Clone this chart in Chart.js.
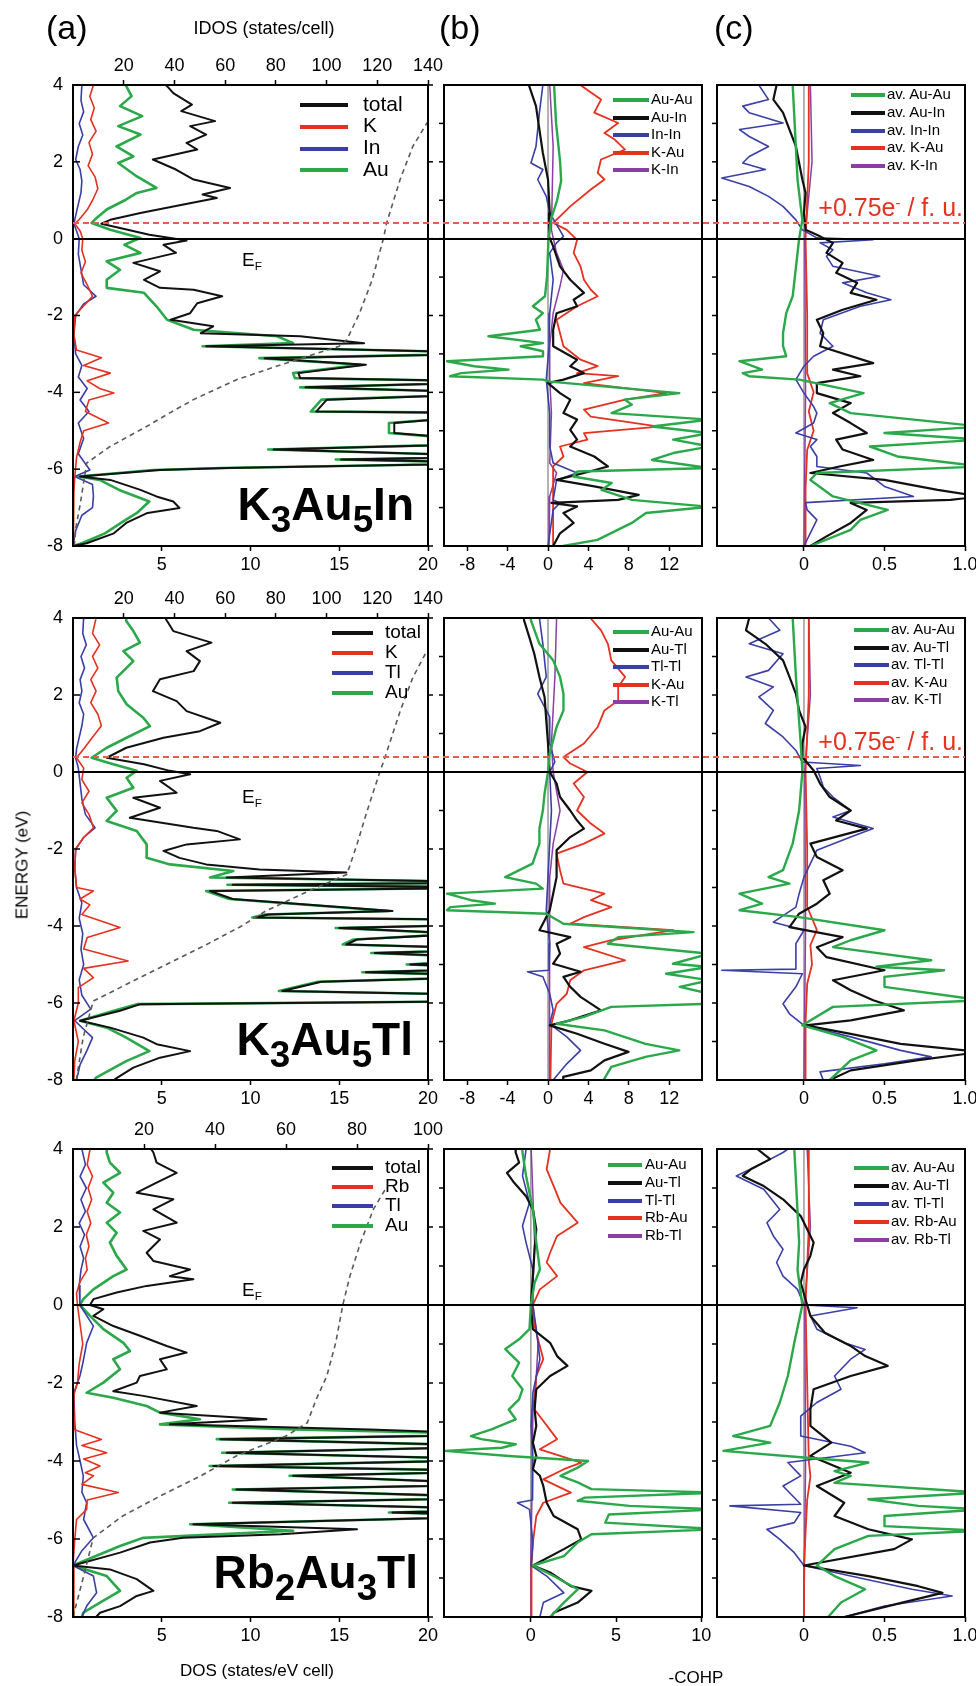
<!DOCTYPE html>
<html>
<head>
<meta charset="utf-8">
<title>DOS and COHP</title>
<script src="https://cdn.jsdelivr.net/npm/chart.js@4.4.1/dist/chart.umd.min.js"></script>
<style>
  html, body { margin: 0; padding: 0; background: #fff; overflow: hidden; }
  body { width: 976px; height: 1686px; position: relative; font-family: 'Liberation Sans', Arial, Helvetica, sans-serif; color: #000; }
  canvas { position: absolute; }
  .lbl { position: absolute; white-space: nowrap; line-height: 1; }
  .sw { display: inline-block; height: 4px; vertical-align: middle; }
  .big { font-size: 46px; font-weight: bold; }
  .big .sb { font-size: 0.8em; position: relative; top: 0.33em; }
  .ef sub { font-size: 0.62em; vertical-align: baseline; position: relative; top: 0.3em; }
  .shift { font-size: 25px; color: #e4321f; }
  .shift sup { font-size: 0.6em; vertical-align: baseline; position: relative; top: -0.55em; }
</style>
</head>
<body>
<script>
// Energy axis (eV), shared by every panel
const energyRange = [-8, 4];
const energyTicks = [-8, -6, -4, -2, 0, 2, 4];
const energyAll = [-7, -6, -5, -4, -3, -2, -1, 0, 1, 2, 3];

// Axis ticks
const dosTicks = [5, 10, 15, 20];
const idosTicksK = [20, 40, 60, 80, 100, 120, 140];
const idosTicksRb = [20, 40, 60, 80, 100];
const cohpTicksK = [-8, -4, 0, 4, 8, 12];
const cohpTicksRb = [0, 5, 10];
const avCohpTicks = [0, 0.5, 1.0];
const avCohpLabels = ['0', '0.5', '1.0'];

// Extra electron level (eV above E_F)
const k3inShift = 0.40;
const k3tlShift = 0.38;

// ---- K3Au5In : [energy, value]
const k3inTotal = [[4.0,5.2],[3.97,5.3],[3.79,5.65],[3.49,6.7],[3.32,6.1],[3.06,8.0],[2.93,6.6],[2.71,7.5],[2.49,6.4],[2.32,7.0],[2.06,4.5],[1.80,5.8],[1.54,6.8],[1.32,8.85],[1.15,7.3],[1.06,8.1],[0.84,5.65],[0.67,3.8],[0.49,2.1],[0.39,1.6],[0.28,2.65],[0.10,4.3],[-0.05,6.4],[-0.16,5.1],[-0.37,5.8],[-0.63,3.4],[-0.85,4.9],[-1.07,4.0],[-1.28,4.9],[-1.33,6.8],[-1.50,8.4],[-1.68,7.0],[-1.94,6.6],[-2.11,5.5],[-2.28,7.9],[-2.46,7.2],[-2.54,12.8],[-2.72,16.4],[-2.80,7.5],[-2.98,25],[-3.11,10.8],[-3.28,16.5],[-3.50,12.7],[-3.63,12.8],[-3.72,25],[-3.87,13.1],[-4.02,25],[-4.19,14.3],[-4.50,13.7],[-4.54,25],[-4.80,18.1],[-5.06,18.1],[-5.32,25],[-5.49,11.3],[-5.67,25],[-5.75,15.1],[-5.84,25],[-5.97,8.7],[-6.02,4.9],[-6.19,0.4],[-6.28,2.1],[-6.54,3.8],[-6.71,4.7],[-6.84,5.65],[-7.01,6.0],[-7.14,4.2],[-7.40,3.0],[-7.67,2.3],[-7.93,0.77],[-8.0,0]];
const k3inK = [[4.0,1.15],[3.7,0.95],[3.4,1.2],[3.1,1.0],[2.8,1.3],[2.5,0.9],[2.2,1.1],[1.9,0.85],[1.6,1.25],[1.3,1.4],[1.0,1.1],[0.75,0.8],[0.5,0.35],[0.39,0.1],[0.2,0.4],[0.0,0.55],[-0.3,0.5],[-0.6,0.7],[-0.9,0.45],[-1.2,0.8],[-1.5,1.1],[-1.7,0.7],[-2.0,0.1],[-2.5,0.05],[-2.9,0.2],[-3.1,1.6],[-3.3,0.6],[-3.5,2.1],[-3.7,0.8],[-3.9,1.5],[-4.02,2.3],[-4.2,0.9],[-4.5,0.7],[-4.8,2.0],[-5.0,0.6],[-5.3,0.4],[-5.7,0.2],[-6.2,0.1],[-6.6,0.05],[-7.0,0.05],[-8.0,0]];
const k3inIn = [[4.0,0.5],[3.6,0.45],[3.3,0.6],[3.0,0.35],[2.7,0.55],[2.4,0.3],[2.06,0.15],[1.8,0.4],[1.5,0.5],[1.2,0.45],[0.9,0.3],[0.6,0.15],[0.39,0.05],[0.2,0.2],[0.0,0.35],[-0.4,0.3],[-0.8,0.45],[-1.2,0.6],[-1.5,1.3],[-1.7,0.6],[-2.0,0.15],[-2.5,0.05],[-3.0,0.15],[-3.3,0.5],[-3.6,0.3],[-3.9,0.8],[-4.2,0.4],[-4.5,0.9],[-4.8,0.3],[-5.2,0.6],[-5.6,0.3],[-6.02,0.95],[-6.19,0.1],[-6.4,1.1],[-6.7,1.15],[-7.0,1.1],[-7.2,0.5],[-7.6,0.15],[-8.0,0]];
const k3inAu = [[4.0,3.0],[3.97,3.0],[3.71,3.3],[3.45,2.65],[3.19,3.9],[2.93,2.55],[2.71,3.8],[2.40,2.45],[2.14,3.4],[1.97,2.55],[1.62,3.6],[1.32,4.7],[1.19,3.6],[1.02,3.0],[0.76,1.9],[0.54,1.33],[0.41,1.05],[0.23,2.1],[0.02,3.8],[-0.16,2.9],[-0.37,3.8],[-0.59,1.9],[-0.81,2.65],[-1.07,1.9],[-1.28,1.9],[-1.41,4.0],[-1.76,4.7],[-2.11,5.3],[-2.37,6.8],[-2.54,11.5],[-2.72,12.4],[-2.80,7.3],[-2.98,25],[-3.11,10.5],[-3.28,16.2],[-3.50,12.4],[-3.63,12.5],[-3.72,25],[-3.87,12.8],[-4.02,25],[-4.19,14.0],[-4.50,13.4],[-4.54,25],[-4.80,17.8],[-5.06,17.8],[-5.32,25],[-5.49,11.0],[-5.67,25],[-5.75,14.8],[-5.84,25],[-5.97,8.4],[-6.02,4.5],[-6.19,0.3],[-6.28,1.5],[-6.54,2.6],[-6.84,4.3],[-7.01,3.9],[-7.14,3.6],[-7.40,2.7],[-7.67,1.8],[-7.93,0.5],[-8.0,0]];
const k3inIdos = [[-8.0,0.5],[-7.5,1.2],[-6.93,2.8],[-6.3,4.3],[-5.84,5.4],[-5.41,14.6],[-4.89,29],[-4.54,38],[-4.19,47.5],[-3.67,64.5],[-3.24,84],[-2.80,105],[-2.63,108],[-1.94,113],[-1.07,118],[0.0,122.4],[0.41,123.7],[1.54,129],[2.40,134],[3.0,139.5],[3.1,141]];
const k3inAuAu = [[4.0,0.6],[3.0,0.8],[2.0,1.2],[1.5,1.3],[1.0,0.9],[0.5,0.3],[0.0,0.05],[-1.0,-0.1],[-1.5,-0.3],[-1.76,-1.5],[-1.94,-0.5],[-2.11,-1.2],[-2.37,-0.8],[-2.54,-5.9],[-2.72,-0.5],[-2.80,-2.7],[-2.93,-0.5],[-3.06,-0.5],[-3.19,-10.0],[-3.32,-7.3],[-3.41,-3.9],[-3.50,-8.6],[-3.58,-9.7],[-3.67,-0.5],[-3.72,0.2],[-4.02,13.0],[-4.19,7.6],[-4.32,8.3],[-4.54,6.3],[-4.71,16],[-4.89,10.3],[-5.06,16],[-5.23,12.4],[-5.41,16],[-5.58,12.4],[-5.76,10.3],[-5.97,16],[-6.06,2.9],[-6.19,2.5],[-6.36,6.3],[-6.54,5.3],[-6.80,8.3],[-6.98,16],[-7.14,9.7],[-7.40,8.3],[-7.58,6.9],[-7.84,4.9],[-8.0,1.5]];
const k3inAuIn = [[4.0,-1.9],[3.97,-1.86],[3.45,-1.19],[2.84,-0.85],[2.23,-0.51],[1.54,0],[0.67,0.17],[0.06,0.1],[-0.20,0.51],[-0.72,1.19],[-1.07,2.2],[-1.41,3.56],[-1.59,2.54],[-1.76,2.88],[-1.94,0.85],[-2.37,0.51],[-2.80,0.51],[-3.15,2.88],[-3.32,2.2],[-3.50,3.56],[-3.67,1.53],[-3.76,0],[-4.02,1.19],[-4.19,2.2],[-4.54,1.53],[-4.71,2.88],[-4.98,2.2],[-5.23,2.88],[-5.41,2.2],[-5.67,4.58],[-5.93,5.93],[-6.10,3.56],[-6.28,0.85],[-6.45,4.58],[-6.67,8.98],[-6.80,6.95],[-6.88,0.34],[-6.97,2.88],[-7.14,1.53],[-7.40,2.54],[-7.67,1.19],[-8.0,0.51]];
const k3inInIn = [[4.0,-0.51],[3.28,-0.85],[2.40,-1.19],[1.97,-1.69],[1.80,-0.51],[1.54,-1.02],[1.10,-0.17],[0.67,0.17],[0.06,1.53],[-0.11,0.85],[-0.37,0.17],[-1.07,0.51],[-1.94,0.17],[-2.80,0.1],[-3.67,-0.17],[-4.54,0.17],[-5.41,0.17],[-5.84,0.51],[-6.10,2.88],[-6.28,0.85],[-6.80,0.51],[-6.88,1.19],[-7.06,0.51],[-8.0,0]];
const k3inKAu = [[4.0,3.2],[3.62,5.25],[3.28,4.58],[3.01,6.95],[2.75,5.59],[2.58,6.61],[2.32,7.63],[2.06,5.25],[1.71,4.92],[1.54,5.59],[1.28,4.24],[0.84,2.2],[0.58,1.19],[0.41,0.51],[0.23,1.86],[-0.03,2.88],[-0.37,2.54],[-0.72,3.22],[-1.07,3.56],[-1.33,4.24],[-1.50,4.92],[-1.76,2.88],[-2.11,0.85],[-2.46,1.19],[-2.80,1.53],[-3.15,3.22],[-3.32,4.92],[-3.50,2.88],[-3.58,6.95],[-3.76,3.56],[-4.02,11.7],[-4.19,7.63],[-4.45,3.56],[-4.63,4.24],[-4.89,11.0],[-5.06,3.56],[-5.23,3.9],[-5.41,1.19],[-5.67,1.53],[-5.93,0.51],[-6.28,0.51],[-8.0,0.5]];
const k3inKIn = [[4.0,0.17],[2.40,0.51],[0.23,0.34],[-0.37,0.85],[-0.81,1.53],[-1.24,1.19],[-1.94,0.51],[-2.80,0.17],[-3.67,0.17],[-4.54,0.34],[-5.84,0.17],[-6.10,0.85],[-6.71,0.17],[-8.0,0.1]];
const k3inAvAuAu = [[4.0,-0.07],[1.54,-0.04],[0.49,-0.01],[0.0,-0.03],[-1.50,-0.07],[-1.94,-0.11],[-2.46,-0.13],[-2.80,-0.13],[-3.06,-0.11],[-3.19,-0.40],[-3.41,-0.26],[-3.50,-0.38],[-3.58,-0.34],[-3.67,-0.03],[-4.02,0.37],[-4.28,0.16],[-4.54,0.29],[-4.89,1.1],[-5.06,0.50],[-5.23,1.1],[-5.41,0.41],[-5.67,0.58],[-5.93,1.1],[-6.10,0.08],[-6.28,0.04],[-6.71,0.18],[-7.06,0.52],[-7.32,0.35],[-7.58,0.29],[-8.0,0.04]];
const k3inAvAuIn = [[4.0,-0.17],[3.62,-0.19],[3.28,-0.13],[2.84,-0.09],[2.40,-0.05],[1.97,-0.03],[1.54,-0.01],[1.19,0.01],[0.67,0],[0.23,0.01],[0.06,0.10],[-0.11,0.18],[-0.37,0.14],[-0.63,0.24],[-0.89,0.20],[-1.15,0.33],[-1.41,0.29],[-1.59,0.45],[-1.85,0.24],[-2.11,0.08],[-2.46,0.12],[-2.80,0.10],[-3.24,0.43],[-3.41,0.18],[-3.58,0.35],[-3.76,0.08],[-4.02,0.08],[-4.28,0.29],[-4.54,0.18],[-4.80,0.29],[-5.06,0.39],[-5.23,0.20],[-5.49,0.24],[-5.76,0.43],[-5.93,0.22],[-6.10,0.04],[-6.28,0.50],[-6.54,0.83],[-6.71,1.1],[-6.80,0.91],[-6.88,0.29],[-7.06,0.39],[-7.40,0.29],[-7.75,0.14],[-8.0,0.04]];
const k3inAvInIn = [[4.0,-0.28],[3.62,-0.22],[3.45,-0.38],[3.28,-0.34],[3.01,-0.13],[2.84,-0.40],[2.66,-0.34],[2.40,-0.22],[2.14,-0.34],[1.97,-0.38],[1.80,-0.24],[1.58,-0.51],[1.36,-0.34],[1.10,-0.22],[0.84,-0.13],[0.49,-0.05],[0.23,-0.01],[0.02,0.08],[-0.03,0.43],[-0.11,0.10],[-0.29,0.18],[-0.46,0.14],[-0.72,0.18],[-0.98,0.47],[-1.15,0.24],[-1.41,0.39],[-1.59,0.54],[-1.76,0.35],[-2.11,0.12],[-2.46,0.10],[-2.80,0.18],[-3.06,0.06],[-3.32,0],[-3.67,-0.05],[-4.02,0],[-4.37,0.06],[-4.54,0.08],[-4.80,0.06],[-5.06,-0.05],[-5.23,0.08],[-5.41,0.04],[-5.67,0.08],[-5.93,0.08],[-6.10,0.39],[-6.45,0.50],[-6.71,0.68],[-6.87,0.01],[-7.06,0.02],[-7.32,0.08],[-8.0,0]];
const k3inAvKAu = [[4.0,0.03],[2.0,0.03],[0.0,0.01],[-2.0,0.02],[-3.5,0.02],[-4.0,0.06],[-4.5,0.03],[-5.0,0.06],[-5.5,0.02],[-6.5,0.01],[-8.0,0.01]];
const k3inAvKIn = [[4.0,0.04],[2.0,0.05],[0.0,0.005],[-4.0,0.01],[-8.0,0]];

// ---- K3Au5Tl
const k3tlTotal = [[4.0,5.2],[3.92,5.3],[3.66,5.65],[3.36,7.8],[3.14,6.4],[2.88,7.15],[2.62,6.8],[2.41,4.9],[2.10,4.5],[1.84,5.84],[1.58,6.4],[1.28,8.3],[1.06,7.15],[0.89,5.1],[0.63,3.0],[0.37,1.9],[0.20,4.0],[0.03,5.46],[-0.06,6.6],[-0.23,4.9],[-0.54,5.84],[-0.67,3.4],[-0.93,4.9],[-1.19,3.2],[-1.45,6.78],[-1.53,8.1],[-1.75,9.4],[-1.88,6.4],[-2.05,5.1],[-2.23,6.0],[-2.40,7.5],[-2.53,10.5],[-2.61,15.4],[-2.74,8.66],[-2.87,25],[-2.93,9.0],[-3.00,25],[-3.09,7.72],[-3.30,9.0],[-3.61,18.0],[-3.70,11.0],[-3.78,10.3],[-3.85,25],[-3.95,25],[-4.05,15.0],[-4.20,22.0],[-4.35,16.0],[-4.48,15.4],[-4.60,25],[-4.70,17.0],[-4.85,25],[-5.00,19.0],[-5.10,25],[-5.20,16.5],[-5.30,25],[-5.45,14.0],[-5.69,11.8],[-5.80,25],[-5.95,25],[-6.03,3.8],[-6.20,2.65],[-6.46,0.4],[-6.64,2.1],[-6.90,3.96],[-7.07,4.71],[-7.25,6.6],[-7.42,4.9],[-7.68,3.4],[-7.94,2.5],[-8.0,2.3]];
const k3tlK = [[4.0,1.3],[3.6,1.1],[3.3,1.5],[3.0,1.1],[2.7,1.4],[2.4,1.0],[2.1,1.3],[1.8,1.0],[1.5,1.4],[1.2,1.6],[0.9,1.1],[0.6,0.6],[0.37,0.2],[0.1,0.6],[-0.2,0.5],[-0.5,0.9],[-0.8,0.5],[-1.1,0.9],[-1.45,1.15],[-1.7,0.6],[-2.0,0.15],[-2.5,0.1],[-3.0,0.2],[-3.09,1.15],[-3.3,0.4],[-3.45,0.95],[-3.7,0.5],[-4.04,2.65],[-4.3,0.8],[-4.6,0.6],[-4.91,3.1],[-5.1,0.6],[-5.34,1.15],[-5.6,0.3],[-6.0,0.3],[-6.46,0.05],[-7.0,0.3],[-7.5,0.1],[-8.0,0.05]];
const k3tlTl = [[4.0,0.6],[3.6,0.55],[3.3,0.75],[3.0,0.45],[2.7,0.65],[2.4,0.4],[2.1,0.5],[1.8,0.35],[1.5,0.6],[1.2,0.5],[0.9,0.35],[0.6,0.2],[0.37,0.15],[0.1,0.3],[-0.3,0.4],[-0.7,0.5],[-1.1,0.7],[-1.45,1.24],[-1.7,0.6],[-2.0,0.15],[-2.5,0.1],[-3.0,0.2],[-3.4,0.5],[-3.8,0.35],[-4.2,0.55],[-4.6,0.45],[-5.0,0.6],[-5.4,0.35],[-5.8,0.5],[-6.16,1.0],[-6.46,0.1],[-6.9,1.1],[-7.25,0.77],[-7.6,0.4],[-8.0,0.2]];
const k3tlAu = [[4.0,3.0],[3.92,3.0],[3.66,3.4],[3.36,3.77],[3.14,2.84],[2.88,3.40],[2.45,2.46],[2.10,2.55],[1.76,3.02],[1.41,3.96],[1.19,4.34],[0.89,3.02],[0.63,1.9],[0.37,1.05],[0.20,2.27],[0.03,3.59],[-0.15,3.02],[-0.41,3.40],[-0.67,1.9],[-1.01,2.46],[-1.27,1.9],[-1.53,3.59],[-1.88,4.15],[-2.23,4.15],[-2.40,5.46],[-2.57,9.03],[-2.74,7.72],[-2.87,25],[-2.93,8.7],[-3.00,25],[-3.09,7.5],[-3.30,8.8],[-3.61,17.8],[-3.70,10.8],[-3.78,10.1],[-3.85,25],[-3.95,25],[-4.05,14.8],[-4.20,21.8],[-4.35,15.8],[-4.48,15.2],[-4.60,25],[-4.70,16.8],[-4.85,25],[-5.00,18.8],[-5.10,25],[-5.20,16.3],[-5.30,25],[-5.45,13.8],[-5.69,11.6],[-5.80,25],[-5.95,25],[-6.03,3.6],[-6.20,2.3],[-6.46,0.4],[-6.64,1.9],[-6.90,3.0],[-7.25,4.3],[-7.51,3.0],[-7.94,1.3],[-8.0,1.2]];
const k3tlIdos = [[-8.0,1.3],[-6.90,4],[-5.95,8],[-5.34,26.4],[-4.91,39.6],[-4.48,52.7],[-4.0,66.5],[-3.61,76],[-3.09,93],[-2.66,108],[-1.88,112],[-1.01,116],[0.0,121],[0.37,123],[1.58,129],[2.45,134],[3.14,139.5],[3.2,140.5]];
const k3tlAuAu = [[4.0,-1.7],[3.94,-1.69],[3.33,-0.85],[2.90,0.51],[2.47,1.19],[2.03,1.53],[1.60,1.53],[1.17,0.85],[0.48,0.17],[0.0,0],[-0.56,-0.34],[-1.00,-0.51],[-1.47,-0.85],[-1.86,-0.85],[-2.38,-1.53],[-2.73,-4.24],[-2.90,-1.19],[-3.03,-0.51],[-3.16,-10.0],[-3.33,-7.63],[-3.42,-5.25],[-3.51,-9.66],[-3.59,-10.0],[-3.68,-0.17],[-3.94,1.53],[-4.16,14.4],[-4.29,6.95],[-4.46,5.93],[-4.72,16],[-4.98,12.37],[-5.06,16],[-5.24,11.7],[-5.41,16],[-5.58,13.05],[-5.76,16],[-6.02,16],[-6.10,6.27],[-6.36,3.56],[-6.54,0.85],[-6.71,5.59],[-7.06,9.66],[-7.23,13.0],[-7.40,9.66],[-7.66,6.27],[-8.0,5.5]];
const k3tlAuTl = [[4.0,-2.4],[3.94,-2.37],[3.51,-1.86],[3.07,-1.36],[2.47,-0.85],[1.95,-0.34],[1.34,-0.17],[0.74,0],[0.0,0.17],[-0.30,0.85],[-0.65,1.19],[-1.00,2.2],[-1.26,2.88],[-1.47,3.56],[-1.69,2.2],[-2.03,0.85],[-2.38,0.85],[-2.73,0.85],[-3.16,0.51],[-3.59,0.17],[-3.94,-0.51],[-4.11,-0.85],[-4.29,2.2],[-4.46,0.85],[-4.72,1.19],[-4.98,0.51],[-5.19,3.22],[-5.32,1.53],[-5.58,2.2],[-5.84,3.22],[-6.19,5.25],[-6.45,2.2],[-6.58,0.17],[-6.80,2.88],[-7.06,5.59],[-7.27,7.97],[-7.49,5.59],[-7.75,4.24],[-7.92,1.53],[-8.0,1.5]];
const k3tlTlTl = [[4.0,-0.85],[3.33,-0.51],[2.47,-0.17],[2.03,-1.02],[1.43,0.17],[0.74,0.17],[0.26,0.68],[0.0,0.17],[-1.00,0.34],[-1.86,0.17],[-2.73,0],[-3.59,-0.17],[-4.46,0.17],[-5.15,0.1],[-5.19,-2.03],[-5.32,-0.51],[-5.76,0.17],[-6.19,0.51],[-6.54,0.17],[-6.88,1.86],[-7.23,3.22],[-7.58,1.86],[-8.0,0.51]];
const k3tlKAu = [[4.0,4.2],[3.68,5.25],[3.33,5.93],[2.90,6.27],[2.47,7.63],[2.21,6.95],[1.86,6.95],[1.60,5.59],[1.17,4.92],[0.74,3.56],[0.39,1.53],[0.22,2.2],[0.0,3.9],[-0.30,2.54],[-0.65,3.56],[-1.00,2.88],[-1.34,4.24],[-1.60,5.59],[-1.86,3.56],[-2.12,0.85],[-2.55,1.19],[-2.90,1.53],[-3.16,5.59],[-3.33,4.24],[-3.51,6.27],[-3.77,3.56],[-3.94,2.2],[-4.11,12.4],[-4.37,6.27],[-4.55,3.56],[-4.89,7.63],[-5.15,3.56],[-5.41,2.2],[-5.76,1.86],[-6.02,0.85],[-6.54,0.34],[-8.0,0.24]];
const k3tlKTl = [[4.0,0.85],[2.47,0.68],[0.74,0.34],[0.0,0.51],[-1.00,1.19],[-1.86,0.51],[-2.73,0.17],[-3.59,0.17],[-4.46,0.17],[-5.32,0.17],[-6.54,0.1],[-8.0,0.1]];
const k3tlAvAuAu = [[4.0,-0.07],[2.47,-0.05],[0.74,-0.02],[0.0,-0.01],[-1.00,-0.03],[-1.86,-0.07],[-2.55,-0.13],[-2.73,-0.22],[-2.90,-0.09],[-3.16,-0.40],[-3.42,-0.26],[-3.59,-0.40],[-3.77,-0.03],[-4.11,0.50],[-4.37,0.29],[-4.55,0.18],[-4.89,0.79],[-5.06,0.45],[-5.15,0.87],[-5.32,0.50],[-5.58,0.50],[-5.93,1.1],[-6.10,0.18],[-6.58,-0.01],[-6.88,0.24],[-7.23,0.45],[-7.49,0.29],[-8.0,0.16]];
const k3tlAvAuTl = [[4.0,-0.34],[3.68,-0.36],[3.33,-0.24],[2.90,-0.13],[2.47,-0.09],[2.03,-0.05],[1.60,-0.03],[1.17,0.01],[0.74,-0.01],[0.39,-0.01],[0.04,0.06],[-0.30,0.10],[-0.65,0.16],[-1.00,0.29],[-1.26,0.20],[-1.47,0.39],[-1.86,0.04],[-2.21,0.08],[-2.55,0.24],[-2.81,0.12],[-3.16,0.16],[-3.42,0.08],[-3.68,-0.03],[-4.03,-0.09],[-4.29,0.24],[-4.55,0.08],[-4.81,0.14],[-5.15,0.50],[-5.41,0.18],[-5.67,0.29],[-5.93,0.43],[-6.19,0.62],[-6.45,0.29],[-6.58,0.01],[-6.80,0.29],[-7.06,0.60],[-7.27,1.1],[-7.49,0.70],[-7.75,0.29],[-8.0,0.16]];
const k3tlAvTlTl = [[4.0,-0.22],[3.68,-0.15],[3.33,-0.34],[3.07,-0.13],[2.64,-0.22],[2.47,-0.36],[2.21,-0.19],[1.95,-0.28],[1.60,-0.19],[1.26,-0.24],[0.91,-0.13],[0.56,-0.05],[0.26,-0.01],[0.17,0.35],[0.09,0.08],[-0.13,0.10],[-0.39,0.12],[-0.65,0.18],[-1.00,0.29],[-1.17,0.18],[-1.47,0.43],[-1.69,0.29],[-2.03,0.08],[-2.38,0.04],[-2.73,0],[-3.16,-0.03],[-3.51,-0.05],[-3.90,-0.19],[-4.11,0],[-4.46,-0.05],[-4.89,-0.05],[-5.12,-0.05],[-5.15,-0.51],[-5.24,-0.01],[-5.58,-0.05],[-6.02,-0.13],[-6.28,-0.09],[-6.58,0],[-6.88,0.29],[-7.23,0.60],[-7.40,0.79],[-7.58,0.50],[-7.79,0.10],[-8.0,0.12]];
const k3tlAvKAu = [[4.0,0.03],[2.0,0.03],[0.0,0.01],[-2.0,0.02],[-3.5,0.02],[-4.1,0.08],[-4.5,0.04],[-5.0,0.05],[-5.5,0.02],[-6.5,0.01],[-8.0,0.01]];
const k3tlAvKTl = [[4.0,0.03],[2.0,0.04],[0.0,0.005],[-4.0,0.01],[-8.0,0]];

// ---- Rb2Au3Tl
const rbTotal = [[4.0,4.4],[3.91,4.53],[3.65,4.71],[3.39,5.84],[3.14,4.71],[2.88,3.59],[2.71,5.65],[2.45,4.53],[2.11,5.84],[1.90,3.96],[1.68,4.90],[1.34,4.15],[1.13,4.53],[0.91,6.59],[0.74,5.46],[0.66,6.78],[0.49,4.15],[0.32,2.46],[0.15,1.15],[0.0,0.96],[-0.11,1.71],[-0.28,1.15],[-0.54,2.27],[-0.79,3.77],[-1.05,5.28],[-1.22,6.40],[-1.39,4.90],[-1.65,5.28],[-1.82,3.77],[-1.99,3.59],[-2.21,2.27],[-2.33,3.96],[-2.59,6.97],[-2.76,4.90],[-2.93,10.9],[-3.06,5.46],[-3.19,16.7],[-3.32,25],[-3.44,8.3],[-3.62,25],[-3.79,8.66],[-3.96,25],[-4.13,7.9],[-4.26,25],[-4.38,12.4],[-4.60,25],[-4.73,9.2],[-4.94,25],[-5.07,9.0],[-5.24,25],[-5.32,18],[-5.41,25],[-5.62,6.78],[-5.75,16.0],[-5.88,11.7],[-5.97,6.2],[-6.09,4.34],[-6.35,2.65],[-6.68,0],[-6.78,2.08],[-7.03,3.59],[-7.33,4.53],[-7.46,3.59],[-7.72,2.65],[-7.89,1.52],[-8.0,1.3]];
const rbRb = [[4.0,0.96],[3.6,0.8],[3.3,1.1],[3.0,0.85],[2.7,1.05],[2.4,0.8],[2.1,1.0],[1.8,0.75],[1.5,0.9],[1.2,0.7],[0.9,0.8],[0.6,0.4],[0.3,0.2],[0.0,0.25],[-0.5,0.4],[-1.0,0.55],[-1.5,0.35],[-2.0,0.25],[-2.3,0.05],[-2.8,0.05],[-3.2,0.1],[-3.45,1.6],[-3.6,0.5],[-3.79,1.9],[-3.95,0.6],[-4.13,1.52],[-4.3,0.7],[-4.38,1.15],[-4.6,0.5],[-4.81,2.55],[-5.0,0.8],[-5.24,0.77],[-5.5,0.2],[-6.0,0.1],[-6.68,0],[-7.3,0.05],[-8.0,0.05]];
const rbTl = [[4.0,0.5],[3.6,0.7],[3.3,0.4],[3.0,0.75],[2.7,0.45],[2.4,0.7],[2.1,0.35],[1.8,0.65],[1.5,0.4],[1.2,0.6],[0.9,0.45],[0.5,0.35],[0.0,0.39],[-0.54,1.15],[-0.97,0.77],[-1.5,0.55],[-1.82,0.39],[-2.25,0.05],[-3.0,0.1],[-3.6,0.2],[-4.0,0.4],[-4.38,0.58],[-4.8,0.5],[-5.07,0.77],[-5.5,0.6],[-5.97,1.15],[-6.3,0.5],[-6.68,0],[-6.95,1.15],[-7.38,1.33],[-7.72,0.77],[-8.0,0.5]];
const rbAu = [[4.0,1.9],[3.91,1.9],[3.65,2.08],[3.39,2.65],[3.14,1.71],[2.88,2.27],[2.62,1.9],[2.37,2.65],[2.11,1.9],[1.85,2.46],[1.60,2.08],[1.26,2.46],[0.91,3.02],[0.74,2.27],[0.40,1.15],[0.15,0.58],[0.0,0.39],[-0.28,0.96],[-0.62,1.71],[-0.97,2.84],[-1.18,3.21],[-1.39,2.27],[-1.65,2.65],[-1.99,1.71],[-2.25,0.77],[-2.38,2.27],[-2.59,4.15],[-2.76,4.90],[-2.93,7.15],[-3.06,4.90],[-3.19,12.4],[-3.32,25],[-3.44,8.1],[-3.62,25],[-3.79,8.4],[-3.96,25],[-4.13,7.7],[-4.26,25],[-4.38,12.2],[-4.60,25],[-4.73,9.0],[-4.94,25],[-5.07,8.8],[-5.24,25],[-5.32,17.8],[-5.41,25],[-5.62,6.6],[-5.79,12.4],[-5.97,3.96],[-6.18,2.65],[-6.68,0],[-6.95,1.90],[-7.33,2.65],[-7.63,1.52],[-7.89,0.58],[-8.0,0.5]];
const rbIdos = [[-8.0,0],[-6.95,3],[-5.97,5.7],[-5.41,14],[-4.90,24.5],[-4.38,36],[-3.87,46],[-3.36,60],[-3.02,66],[-2.42,68.5],[-1.82,71.5],[-0.97,74],[0.0,76],[0.74,78],[1.60,81],[2.45,84.6],[2.97,88]];
const rbAuAu = [[4.0,-0.5],[3.91,-0.49],[3.31,-0.28],[2.45,0.12],[1.60,0.32],[0.91,0.53],[0.57,0.22],[0.0,0],[-0.62,-0.08],[-0.88,-0.69],[-1.13,-1.50],[-1.48,-0.69],[-1.82,-1.09],[-2.16,-0.49],[-2.42,-0.69],[-2.68,-1.30],[-2.93,-0.89],[-3.19,-2.31],[-3.36,-3.52],[-3.44,-2.91],[-3.57,-0.89],[-3.66,-1.70],[-3.74,-5.04],[-3.87,-1.30],[-4.00,3.36],[-4.17,2.75],[-4.38,1.74],[-4.55,2.75],[-4.72,3.56],[-4.81,11],[-4.94,3.16],[-5.02,2.75],[-5.15,5.79],[-5.24,11],[-5.37,4.58],[-5.58,4.37],[-5.75,11],[-5.88,3.56],[-6.09,2.75],[-6.44,1.94],[-6.68,0.12],[-6.95,1.34],[-7.29,2.75],[-7.63,1.94],[-8.0,1.13]];
const rbAuTl = [[4.0,-0.9],[3.91,-0.89],[3.65,-0.69],[3.39,-1.40],[3.14,-0.99],[2.79,-0.28],[2.45,0.12],[1.94,0.32],[1.43,0.22],[0.74,0.12],[0.0,0],[-0.62,0.12],[-0.97,1.13],[-1.31,1.54],[-1.56,2.15],[-1.82,1.13],[-2.16,0.32],[-2.68,0.22],[-3.10,0.32],[-3.53,0.12],[-3.87,0.32],[-4.21,0.12],[-4.38,0.53],[-4.64,0.73],[-5.07,0.93],[-5.41,1.34],[-5.75,2.75],[-6.01,2.96],[-6.26,1.94],[-6.68,0.12],[-6.86,1.13],[-7.21,2.35],[-7.33,3.56],[-7.63,2.75],[-7.89,1.34],[-8.0,1.2]];
const rbTlTl = [[4.0,-0.28],[3.31,-0.49],[2.62,-0.08],[2.03,-0.49],[1.60,-0.28],[0.91,0.12],[0.0,0.12],[-0.62,0.32],[-1.39,0.53],[-2.25,0.12],[-3.10,0.02],[-3.96,0.12],[-5.00,0.1],[-5.07,-0.79],[-5.24,-0.08],[-6.09,0.12],[-6.68,0.02],[-6.95,0.93],[-7.38,1.94],[-7.63,0.73],[-8.0,0.53]];
const rbRbAu = [[4.0,1.13],[3.48,0.93],[3.05,1.34],[2.62,1.74],[2.11,2.75],[1.77,1.54],[1.34,1.13],[1.09,0.93],[0.74,1.54],[0.40,0.53],[0.0,0.12],[-0.54,0.22],[-1.39,0.73],[-1.82,0.32],[-2.68,0.22],[-3.44,1.54],[-3.70,0.53],[-4.04,2.96],[-4.21,1.94],[-4.47,0.73],[-4.81,2.35],[-5.07,0.73],[-5.41,0.32],[-6.09,0.12],[-6.68,0.04],[-8.0,0.04]];
const rbRbTl = [[4.0,0.02],[1.60,0.22],[0.0,0.08],[-0.97,0.43],[-1.82,0.32],[-2.68,0.12],[-4.38,0.08],[-6.68,0],[-8.0,0]];
const rbAvAuAu = [[4.0,-0.06],[1.60,-0.03],[0.91,-0.04],[0.0,-0.01],[-0.97,-0.06],[-1.82,-0.10],[-2.50,-0.15],[-3.10,-0.21],[-3.36,-0.44],[-3.53,-0.21],[-3.74,-0.50],[-3.91,0],[-4.04,0.40],[-4.26,0.19],[-4.38,0.29],[-4.56,0.19],[-4.81,1.1],[-4.98,0.40],[-5.15,0.71],[-5.24,1.1],[-5.41,0.50],[-5.67,0.50],[-5.79,1.1],[-5.92,0.40],[-6.26,0.19],[-6.68,0.08],[-6.95,0.19],[-7.29,0.38],[-7.63,0.23],[-8.0,0.15]];
const rbAvAuTl = [[4.0,-0.29],[3.74,-0.21],[3.48,-0.33],[3.31,-0.38],[3.05,-0.25],[2.71,-0.13],[2.28,-0.02],[1.94,0.02],[1.60,0.06],[1.26,0.04],[0.91,0],[0.57,-0.02],[0.0,0.02],[-0.28,0.04],[-0.71,0.13],[-1.05,0.29],[-1.31,0.38],[-1.56,0.52],[-1.82,0.29],[-2.16,0.06],[-2.68,0.04],[-3.10,0.04],[-3.53,0.17],[-3.87,0.04],[-4.30,0.29],[-4.64,0.08],[-5.07,0.25],[-5.41,0.19],[-5.75,0.40],[-6.01,0.67],[-6.26,0.56],[-6.68,0],[-6.95,0.40],[-7.21,0.71],[-7.38,0.86],[-7.63,0.61],[-8.0,0.25]];
const rbAvTlTl = [[4.0,-0.1],[3.91,-0.13],[3.65,-0.25],[3.31,-0.42],[2.97,-0.25],[2.45,-0.15],[2.11,-0.23],[1.77,-0.19],[1.43,-0.13],[1.09,-0.17],[0.74,-0.13],[0.40,-0.04],[0.0,0],[-0.07,0.33],[-0.28,0.04],[-0.62,0.08],[-0.97,0.25],[-1.14,0.38],[-1.39,0.29],[-1.82,0.19],[-2.16,0.23],[-2.50,0.08],[-2.85,-0.02],[-3.36,-0.02],[-3.62,0.29],[-3.79,0.38],[-4.04,-0.10],[-4.38,-0.02],[-4.64,-0.13],[-5.11,-0.02],[-5.15,-0.46],[-5.32,-0.02],[-5.58,-0.06],[-5.75,-0.23],[-6.01,-0.15],[-6.35,-0.06],[-6.68,0],[-6.95,0.29],[-7.29,0.67],[-7.46,0.92],[-7.72,0.50],[-8.0,0.25]];
const rbAvRbAu = [[4.0,0.03],[2.0,0.03],[0.0,0.01],[-2.0,0.02],[-4.0,0.03],[-4.4,0.04],[-5.0,0.02],[-6.68,0],[-8.0,0]];
const rbAvRbTl = [[4.0,0.02],[2.0,0.04],[0.0,0.005],[-4.0,0.01],[-8.0,0]];

// ---- layout
const FONT = "'Liberation Sans', Arial, Helvetica, sans-serif";
const M = 60;
const colA = [73, 428], colB = [444, 702], colC = [717, 965];
const rowY = [[85, 546], [618, 1080], [1149, 1617]];
const COL = { black: '#111111', red: '#e5311f', blue: '#3a3fa6', green: '#2aa84a', purple: '#8b3ea6', idos: '#5a5a5a' };

function line(arr, color, width, extra) {
  return Object.assign({
    data: arr.map(([e, v]) => ({ x: v, y: e })),
    borderColor: color, borderWidth: width, pointRadius: 0, showLine: true,
    fill: false, tension: 0, clip: 0, borderJoinStyle: 'round'
  }, extra || {});
}

function fixedTicks(values) {
  return s => { s.ticks = values.map(v => ({ value: v })); };
}

function framePlugin(p) {
  return {
    id: 'panelFrame',
    beforeDatasetsDraw(chart) {
      if (!p.zeroX) return;
      const { ctx, chartArea: a } = chart;
      const x0 = chart.scales.x.getPixelForValue(0);
      ctx.save();
      ctx.strokeStyle = '#8a8a8a'; ctx.lineWidth = 1.3;
      ctx.beginPath(); ctx.moveTo(x0, a.top); ctx.lineTo(x0, a.bottom); ctx.stroke();
      ctx.restore();
    },
    afterDatasetsDraw(chart) {
      const { ctx, chartArea: a } = chart;
      const ys = chart.scales.y;
      ctx.save();
      ctx.strokeStyle = '#000'; ctx.lineWidth = 1.5;
      const ticks = (vals, x, len) => vals.forEach(e => {
        const py = ys.getPixelForValue(e);
        ctx.beginPath(); ctx.moveTo(x, py); ctx.lineTo(x + len, py); ctx.stroke();
      });
      if (p.leftIn) ticks(p.leftIn, a.left, 7);
      if (p.leftOut) ticks(p.leftOut, a.left, -5);
      if (p.rightOut) ticks(p.rightOut, a.right, 5);
      ctx.lineWidth = 2;
      ctx.strokeRect(a.left, a.top, a.right - a.left, a.bottom - a.top);
      ctx.restore();
    }
  };
}

function makePanel(p) {
  const [l, t, r, b] = p.box;
  const w = r - l + 2 * M, h = b - t + 2 * M;
  const cv = document.createElement('canvas');
  cv.width = w; cv.height = h;
  cv.style.left = (l - M) + 'px'; cv.style.top = (t - M) + 'px';
  cv.style.width = w + 'px'; cv.style.height = h + 'px';
  document.body.appendChild(cv);

  const tickFont = { family: FONT, size: 18 };
  const scales = {
    x: {
      type: 'linear', position: 'bottom', min: p.xMin, max: p.xMax,
      afterBuildTicks: fixedTicks(p.xTicks),
      afterFit: s => { s.height = 30; },
      ticks: { font: tickFont, color: '#000', padding: 3, maxRotation: 0, autoSkip: false,
               callback: (v, i) => p.xLabels ? p.xLabels[i] : String(v) },
      grid: { drawOnChartArea: false, drawTicks: true, tickLength: 5, tickColor: '#000', tickWidth: 1.5 },
      border: { display: false }
    },
    y: {
      type: 'linear', min: energyRange[0], max: energyRange[1], display: !!p.yLabels,
      afterBuildTicks: fixedTicks(energyTicks),
      ticks: { font: tickFont, color: '#000', padding: 10 },
      grid: { display: false, drawTicks: false },
      border: { display: false }
    }
  };
  if (p.yLabels) scales.y.afterFit = s => { s.width = 45; };
  if (p.top) {
    scales.x2 = {
      type: 'linear', position: 'top', min: 0, max: p.top.max,
      afterBuildTicks: fixedTicks(p.top.ticks),
      afterFit: s => { s.height = 30; },
      ticks: { font: tickFont, color: '#000', padding: 3, maxRotation: 0, autoSkip: false },
      grid: { drawOnChartArea: false, drawTicks: true, tickLength: 5, tickColor: '#000', tickWidth: 1.5 },
      border: { display: false }
    };
  }
  const chart = new Chart(cv, {
    type: 'scatter',
    data: { datasets: p.sets },
    options: {
      responsive: false, maintainAspectRatio: false, animation: false, events: [], devicePixelRatio: 1,
      layout: { autoPadding: false, padding: { left: p.yLabels ? M - 45 : M, right: M, top: p.top ? M - 30 : M, bottom: M - 30 } },
      scales,
      plugins: { legend: { display: false }, tooltip: { enabled: false } }
    },
    plugins: [framePlugin(p)]
  });
  chart.$left = l - M; chart.$top = t - M;
  return chart;
}

function addText(html, x, y, cls, style) {
  const d = document.createElement('div');
  d.className = 'lbl ' + (cls || '');
  d.innerHTML = html;
  d.style.left = x + 'px'; d.style.top = y + 'px';
  Object.assign(d.style, style || {});
  document.body.appendChild(d);
  return d;
}

function addLegend(items, x, y0, step, swW, gap, fs) {
  items.forEach(([label, color], i) => {
    addText(`<span class="sw" style="width:${swW}px;background:${color};margin-right:${gap}px"></span>${label}`,
      x, y0 + i * step - 0.587 * fs, '', { fontSize: fs + 'px' });
  });
}

function hline(chartL, chartR, energy, style) {
  const y = chartL.$top + chartL.scales.y.getPixelForValue(energy);
  const x1 = chartL.$left + chartL.chartArea.left, x2 = chartR.$left + chartR.chartArea.right;
  const d = document.createElement('div');
  Object.assign(d.style, { position: 'absolute', left: x1 + 'px', width: (x2 - x1) + 'px' }, style(y));
  document.body.appendChild(d);
}

// ---- build the three rows
const rows = [
  {
    dos: [[k3inTotal, COL.black, 2], [k3inK, COL.red, 1.6], [k3inIn, COL.blue, 1.6], [k3inAu, COL.green, 2.6]],
    idos: k3inIdos, idosMax: 140, idosTicks: idosTicksK,
    cohp: [k3inAuAu, k3inAuIn, k3inInIn, k3inKAu, k3inKIn], cohpRange: [-10.3, 15.25], cohpTicks: cohpTicksK,
    av: [k3inAvAuAu, k3inAvAuIn, k3inAvInIn, k3inAvKAu, k3inAvKIn],
    shift: k3inShift
  },
  {
    dos: [[k3tlTotal, COL.black, 2], [k3tlK, COL.red, 1.6], [k3tlTl, COL.blue, 1.6], [k3tlAu, COL.green, 2.6]],
    idos: k3tlIdos, idosMax: 140, idosTicks: idosTicksK,
    cohp: [k3tlAuAu, k3tlAuTl, k3tlTlTl, k3tlKAu, k3tlKTl], cohpRange: [-10.3, 15.25], cohpTicks: cohpTicksK,
    av: [k3tlAvAuAu, k3tlAvAuTl, k3tlAvTlTl, k3tlAvKAu, k3tlAvKTl],
    shift: k3tlShift
  },
  {
    dos: [[rbTotal, COL.black, 2], [rbRb, COL.red, 1.6], [rbTl, COL.blue, 1.6], [rbAu, COL.green, 2.6]],
    idos: rbIdos, idosMax: 100, idosTicks: idosTicksRb,
    cohp: [rbAuAu, rbAuTl, rbTlTl, rbRbAu, rbRbTl], cohpRange: [-5.1, 10.05], cohpTicks: cohpTicksRb,
    av: [rbAvAuAu, rbAvAuTl, rbAvTlTl, rbAvRbAu, rbAvRbTl],
    shift: null
  }
];
const pairStyle = [[COL.green, 2.4], [COL.black, 2.2], [COL.blue, 1.6], [COL.red, 1.8], [COL.purple, 1.5]];

rows.forEach((row, r) => {
  const [t, b] = rowY[r];
  const ca = makePanel({
    box: [colA[0], t, colA[1], b], xMin: 0, xMax: 20, xTicks: dosTicks, yLabels: true,
    top: { max: row.idosMax, ticks: row.idosTicks },
    leftIn: energyTicks, rightOut: energyTicks,
    sets: [line(row.idos, COL.idos, 1.6, { xAxisID: 'x2', borderDash: [5, 4] })]
      .concat(row.dos.map(([d, c, wd]) => line(d, c, wd)))
  });
  makePanel({
    box: [colB[0], t, colB[1], b], xMin: row.cohpRange[0], xMax: row.cohpRange[1], xTicks: row.cohpTicks,
    zeroX: true, leftOut: energyAll,
    sets: row.cohp.map((d, i) => line(d, pairStyle[i][0], pairStyle[i][1]))
  });
  const cc = makePanel({
    box: [colC[0], t, colC[1], b], xMin: -0.54, xMax: 1.0, xTicks: avCohpTicks, xLabels: avCohpLabels,
    zeroX: true, leftOut: energyAll,
    sets: row.av.map((d, i) => line(d, pairStyle[i][0], pairStyle[i][1]))
  });
  hline(ca, cc, 0, y => ({ top: (y - 1) + 'px', height: '2px', background: '#000' }));
  if (row.shift !== null) {
    hline(ca, cc, row.shift, y => ({ top: (y - 1) + 'px', height: '1.5px',
      background: 'repeating-linear-gradient(to right, #ec5a48 0 6px, transparent 6px 10px)' }));
  }
});

// ---- text
addText('(a)', 46, 10, '', { fontSize: '34px' });
addText('(b)', 439, 10, '', { fontSize: '34px' });
addText('(c)', 714, 10, '', { fontSize: '34px' });
addText('IDOS (states/cell)', 264, 28, '', { fontSize: '18px', transform: 'translate(-50%,-50%)' });
addText('ENERGY (eV)', 22, 865, '', { fontSize: '17px', transform: 'translate(-50%,-50%) rotate(-90deg)' });
addText('DOS (states/eV cell)', 257, 1670, '', { fontSize: '17px', transform: 'translate(-50%,-50%)' });
addText('-COHP', 696, 1677, '', { fontSize: '17px', transform: 'translate(-50%,-50%)' });

addText('K<span class="sb">3</span>Au<span class="sb">5</span>In', 0, 520 - 39, 'big', { left: 'auto', right: (976 - 414) + 'px' });
addText('K<span class="sb">3</span>Au<span class="sb">5</span>Tl', 0, 1055 - 39, 'big', { left: 'auto', right: (976 - 413) + 'px' });
addText('Rb<span class="sb">2</span>Au<span class="sb">3</span>Tl', 0, 1588 - 39, 'big', { left: 'auto', right: (976 - 418) + 'px' });

addText('E<sub>F</sub>', 242, 250, 'ef', { fontSize: '19px' });
addText('E<sub>F</sub>', 242, 787, 'ef', { fontSize: '19px' });
addText('E<sub>F</sub>', 242, 1280, 'ef', { fontSize: '19px' });

addText('+0.75e<sup>-</sup> / f. u.', 0, 195, 'shift', { left: 'auto', right: (976 - 963) + 'px' });
addText('+0.75e<sup>-</sup> / f. u.', 0, 729, 'shift', { left: 'auto', right: (976 - 963) + 'px' });

// ---- legends
addLegend([['total', COL.black], ['K', COL.red], ['In', COL.blue], ['Au', COL.green]], 300, 105, 21.7, 48, 15, 21);
addLegend([['total', COL.black], ['K', COL.red], ['Tl', COL.blue], ['Au', COL.green]], 332, 633, 20, 41, 12, 19);
addLegend([['total', COL.black], ['Rb', COL.red], ['Tl', COL.blue], ['Au', COL.green]], 332, 1168, 19.3, 41, 12, 19);

const pairColors = pairStyle.map(s => s[0]);
const withColors = names => names.map((n, i) => [n, pairColors[i]]);
addLegend(withColors(['Au-Au', 'Au-In', 'In-In', 'K-Au', 'K-In']), 613, 100, 17.5, 36, 2, 15);
addLegend(withColors(['av. Au-Au', 'av. Au-In', 'av. In-In', 'av. K-Au', 'av. K-In']), 851, 95, 17.75, 34, 2, 15);
addLegend(withColors(['Au-Au', 'Au-Tl', 'Tl-Tl', 'K-Au', 'K-Tl']), 613, 632, 17.5, 36, 2, 15);
addLegend(withColors(['av. Au-Au', 'av. Au-Tl', 'av. Tl-Tl', 'av. K-Au', 'av. K-Tl']), 854, 630, 17.5, 35, 2, 15);
addLegend(withColors(['Au-Au', 'Au-Tl', 'Tl-Tl', 'Rb-Au', 'Rb-Tl']), 608, 1165, 17.75, 34, 3, 15);
addLegend(withColors(['av. Au-Au', 'av. Au-Tl', 'av. Tl-Tl', 'av. Rb-Au', 'av. Rb-Tl']), 854, 1168, 18, 35, 2, 15);
</script>
</body>
</html>
